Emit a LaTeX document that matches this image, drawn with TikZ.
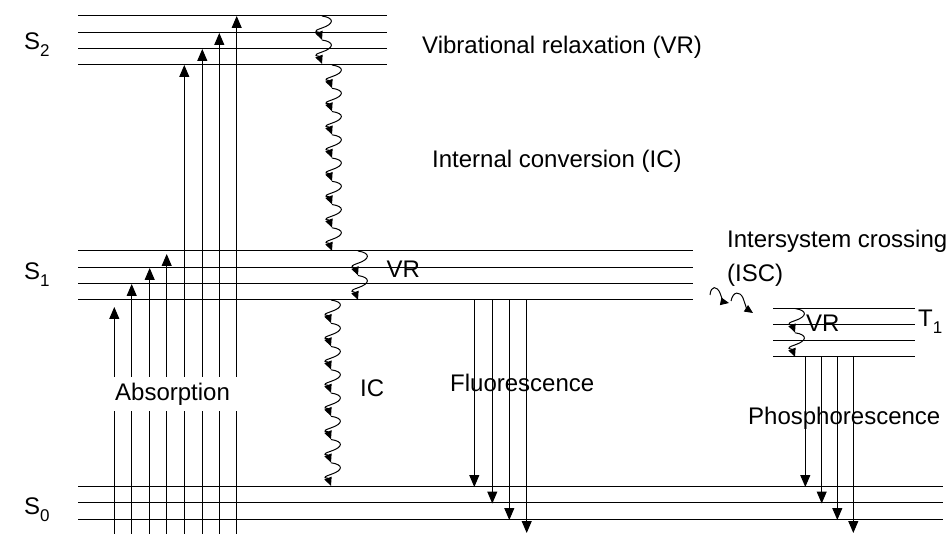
\documentclass[tikz,border=0pt]{standalone}
\usepackage{fontspec}
\setmainfont{Liberation Sans}
\usetikzlibrary{arrows.meta}
\newcommand{\mywig}[3]{%
  \draw[wig] (#1,#2) .. controls +(13,2) and +(12,-4) .. (#1,#2+#3/2)
             .. controls +(-12,4) and +(-3,-8) .. (#1,#2+#3);}
\begin{document}
\begin{tikzpicture}[x=1pt,y=-1pt,
  level/.style={line width=1pt},
  trans/.style={line width=1pt,-{Triangle[length=12pt,width=10pt]}},
  wig/.style={line width=1pt,-{Triangle[length=8.5pt,width=7.5pt]}},
  lbl/.style={inner sep=0pt,anchor=base west,font=\fontsize{24}{28}\selectfont},
]
\useasboundingbox (0,0) rectangle (950,534);
% energy levels
\foreach \y in {16,32.3,48.6,65} \draw[level] (78,\y) -- (387,\y);
\foreach \y in {251,267.3,283.6,300} \draw[level] (78,\y) -- (693,\y);
\foreach \y in {486,502.5,519} \draw[level] (78,\y) -- (943,\y);
\foreach \y in {308.5,324.5,340.5,357} \draw[level] (773,\y) -- (915,\y);
% absorption
\foreach \x/\t in {114.3/307,131.7/284,149.7/268,166.7/254,184.3/65,202.3/49,219.3/33,236.7/16}
  \draw[trans] (\x,534) -- (\x,\t);
% fluorescence
\foreach \x/\t in {474.3/487,492.3/503.5,509.3/520,526.7/533}
  \draw[trans] (\x,300) -- (\x,\t);
% phosphorescence
\foreach \x/\t in {805.3/487,821.7/503.5,837.3/520,853.3/533}
  \draw[trans] (\x,357) -- (\x,\t);
% wiggles
\foreach \i in {0,1} {\mywig{322}{16+24*\i}{24}}
\foreach \i in {0,...,7} {\mywig{332}{65+23.25*\i}{23.25}}
\foreach \i in {0,1} {\mywig{358}{251+24.5*\i}{24.5}}
\foreach \i in {0,...,7} {\mywig{331}{300+23.25*\i}{23.25}}
\foreach \i in {0,1} {\mywig{795}{308.5+24.25*\i}{24.25}}
% ISC
\draw[wig] (710,295) .. controls (711,285) and (717,286) .. (720,293)
           .. controls (722,299) and (724,302) .. (729,303);
\draw[wig] (731,301) .. controls (733,291) and (740,291) .. (743,298)
           .. controls (745,304) and (747,309) .. (753,313);
% labels
\node[lbl] (s2) at (24,50) {S\raisebox{-7pt}{\fontsize{17}{17}\selectfont 2}};
\node[lbl] (s1) at (24,280) {S\raisebox{-7pt}{\fontsize{17}{17}\selectfont 1}};
\node[lbl] (s0) at (24,514) {S\raisebox{-7pt}{\fontsize{17}{17}\selectfont 0}};
\node[lbl] (t1) at (918,327) {T\raisebox{-6pt}{\fontsize{17}{17}\selectfont 1}};
\node[lbl] (vr1) at (422,54) {Vibrational relaxation (VR)};
\node[lbl] (ic1) at (432,168) {Internal conversion (IC)};
\node[lbl] (isc) at (727,248) {Intersystem crossing};
\node[lbl] (isc2) at (727,281.5) {(ISC)};
\node[lbl] (vr2) at (386.5,277.5) {VR};
\node[lbl] (vr3) at (806,331.5) {VR};
\node[lbl] (ic2) at (360,396) {IC};
\node[lbl] (fl) at (450,391.5) {Fluorescence};
\node[lbl] (ph) at (748,424) {Phosphorescence};
\node[lbl,fill=white,inner xsep=8pt,inner ysep=6pt] (ab) at (107,400) {Absorption};
\end{tikzpicture}
\end{document}
